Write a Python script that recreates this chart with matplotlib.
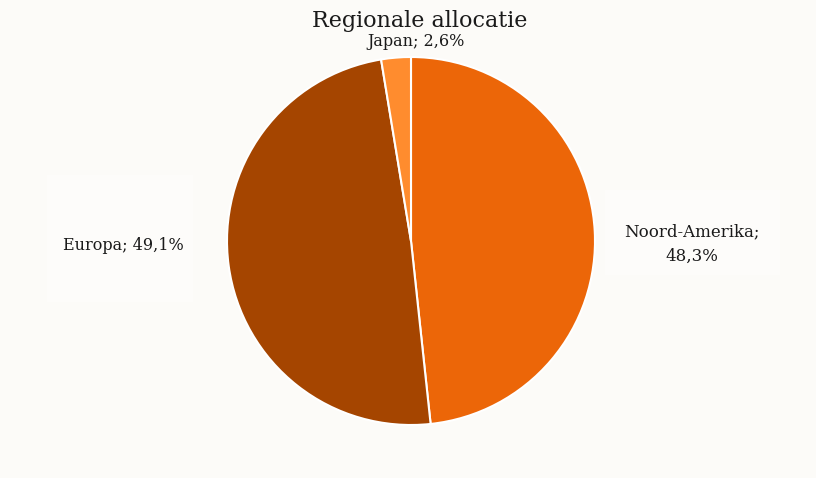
import matplotlib
matplotlib.use("Agg")
import matplotlib.pyplot as plt
from matplotlib.patches import Rectangle

categories = ["Noord-Amerika", "Europa", "Japan"]
values = [48.3, 49.1, 2.6]
colors = ["#EC6608", "#A54500", "#FF8C2E"]
labels = ["Noord-Amerika;\n48,3%", "Europa; 49,1%", "Japan; 2,6%"]
title = "Regionale allocatie"

W, H = 816, 478
bg = "#FCFBF8"
fig = plt.figure(figsize=(W / 100, H / 100), dpi=100, facecolor=bg)
plt.rcParams['font.family'] = ['DejaVu Serif']

def fx(x):
    return x / W

def fy(y):
    return 1 - y / H

# faint white label boxes
for (x0, y0, x1, y1) in [(47, 175, 193, 302), (605, 190, 780, 275)]:
    fig.patches.append(Rectangle((fx(x0), fy(y1)), fx(x1 - x0), (y1 - y0) / H,
                                 transform=fig.transFigure, facecolor="#FFFFFF",
                                 edgecolor="none", alpha=0.4, zorder=0))

ax = fig.add_axes([fx(227), fy(425), fx(368), 368 / H])
ax.set_facecolor("none")
ax.pie(values, colors=colors, startangle=90, counterclock=False, radius=1,
       wedgeprops=dict(edgecolor="white", linewidth=1.5))
ax.set_xlim(-1.0, 1.0)
ax.set_ylim(-1.0, 1.0)
ax.set_aspect("equal")
ax.axis("off")

fig.text(fx(420), fy(21), title, ha="center", va="center", fontsize=16, color="#1a1a1a")
fig.text(fx(416), fy(42), labels[2], ha="center", va="center", fontsize=11.5, color="#1a1a1a")
fig.text(fx(123), fy(246), labels[1], ha="center", va="center", fontsize=11.5, color="#1a1a1a")
fig.text(fx(692), fy(244), labels[0], ha="center", va="center", fontsize=12, color="#1a1a1a",
         linespacing=1.6)

fig.savefig("out.png", dpi=100, facecolor=bg)
